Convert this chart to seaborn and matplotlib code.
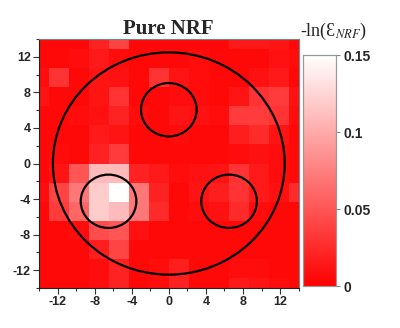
import numpy as np
import pandas as pd
import seaborn as sns
import matplotlib
matplotlib.use("Agg")
import matplotlib.pyplot as plt
from matplotlib.colors import LinearSegmentedColormap
from matplotlib.patches import Ellipse
from matplotlib.ticker import FixedLocator

# Sampling grid (cell centres, in cm) along x and y
x_centers = [-14.0, -11.85, -9.69, -7.54, -5.38, -3.23, -1.08,
             1.08, 3.23, 5.38, 7.54, 9.69, 11.85, 14.0]
y_centers = [14.0, 11.85, 9.69, 7.54, 5.38, 3.23, 1.08,
             -1.08, -3.23, -5.38, -7.54, -9.69, -11.85, -14.0]

# -ln(E_NRF) per cell, rows top (y=14) to bottom (y=-14)
row_00 = [0.005, 0.005, 0.005, 0.020, 0.040, 0.005, 0.005, 0.005, 0.005, 0.005, 0.015, 0.015, 0.012, 0.005]
row_01 = [0.005, 0.005, 0.008, 0.015, 0.008, 0.005, 0.005, 0.005, 0.008, 0.005, 0.005, 0.005, 0.010, 0.008]
row_02 = [0.008, 0.030, 0.005, 0.012, 0.010, 0.005, 0.030, 0.012, 0.008, 0.005, 0.005, 0.010, 0.015, 0.005]
row_03 = [0.012, 0.005, 0.005, 0.012, 0.030, 0.005, 0.005, 0.008, 0.008, 0.005, 0.012, 0.030, 0.035, 0.010]
row_04 = [0.005, 0.005, 0.008, 0.010, 0.020, 0.008, 0.005, 0.012, 0.010, 0.008, 0.035, 0.035, 0.030, 0.008]
row_05 = [0.005, 0.005, 0.005, 0.015, 0.012, 0.005, 0.005, 0.008, 0.005, 0.005, 0.018, 0.025, 0.012, 0.005]
row_06 = [0.005, 0.008, 0.005, 0.020, 0.035, 0.005, 0.005, 0.005, 0.005, 0.005, 0.008, 0.010, 0.008, 0.005]
row_07 = [0.005, 0.012, 0.050, 0.110, 0.110, 0.020, 0.015, 0.008, 0.010, 0.012, 0.030, 0.015, 0.008, 0.005]
row_08 = [0.008, 0.040, 0.070, 0.120, 0.150, 0.070, 0.020, 0.005, 0.012, 0.018, 0.030, 0.015, 0.010, 0.025]
row_09 = [0.005, 0.035, 0.060, 0.120, 0.110, 0.070, 0.025, 0.005, 0.008, 0.010, 0.025, 0.008, 0.005, 0.005]
row_10 = [0.005, 0.005, 0.008, 0.045, 0.050, 0.010, 0.005, 0.005, 0.005, 0.005, 0.005, 0.005, 0.005, 0.005]
row_11 = [0.005, 0.005, 0.005, 0.018, 0.040, 0.005, 0.005, 0.005, 0.005, 0.005, 0.005, 0.005, 0.005, 0.005]
row_12 = [0.005, 0.005, 0.005, 0.008, 0.020, 0.005, 0.008, 0.018, 0.005, 0.005, 0.008, 0.008, 0.005, 0.005]
row_13 = [0.005, 0.005, 0.005, 0.008, 0.020, 0.005, 0.008, 0.020, 0.005, 0.005, 0.015, 0.012, 0.008, 0.005]

# Phantom outline (x, y, radius)
outer_circle = (0.0, 0.0, 12.5)
inserts = [(0.0, 6.05, 3.0), (-6.5, -4.25, 3.0), (6.5, -4.25, 3.0)]

axis_ticks = [-12, -8, -4, 0, 4, 8, 12]
minor_ticks = [-14, -10, -6, -2, 2, 6, 10, 14]
cbar_ticks = [0, 0.05, 0.1, 0.15]
cbar_labels = ["0", "0.05", "0.1", "0.15"]

grid = pd.DataFrame(
    [row_00, row_01, row_02, row_03, row_04, row_05, row_06,
     row_07, row_08, row_09, row_10, row_11, row_12, row_13],
    index=y_centers, columns=x_centers)

step = (x_centers[-1] - x_centers[0]) / (len(x_centers) - 1)


def ix(x):
    return (x - x_centers[0]) / step + 0.5


def iy(y):
    return (y_centers[0] - y) / step + 0.5


sns.set_style("white")
plt.rcParams["mathtext.fontset"] = "stix"
fig = plt.figure(figsize=(4.0, 3.28), dpi=100)
ax = fig.add_axes([0.0975, 0.122, 0.649, 0.759])
cax = fig.add_axes([0.757, 0.128, 0.082, 0.704])

cmap = LinearSegmentedColormap.from_list("red_white", ["#ff0000", "#ffffff"])
sns.heatmap(grid, ax=ax, cbar_ax=cax, cmap=cmap, vmin=0, vmax=0.15,
            xticklabels=False, yticklabels=False, linewidths=0)

ax.set_xlim(ix(-14), ix(14))
ax.set_ylim(iy(-14), iy(14))

for cx, cy, r in [outer_circle] + inserts:
    ax.add_patch(Ellipse((ix(cx), iy(cy)), 2 * r / step, 2 * r / step,
                         fill=False, edgecolor="black", linewidth=1.6))

tick_font = dict(family="Liberation Sans", weight="bold", size=9)
ax.xaxis.set_major_locator(FixedLocator([ix(v) for v in axis_ticks]))
ax.xaxis.set_minor_locator(FixedLocator([ix(v) for v in minor_ticks]))
ax.set_xticklabels([str(v) for v in axis_ticks], rotation=0, **tick_font)
ax.yaxis.set_major_locator(FixedLocator([iy(v) for v in axis_ticks]))
ax.yaxis.set_minor_locator(FixedLocator([iy(v) for v in minor_ticks]))
ax.set_yticklabels([str(v) for v in axis_ticks], rotation=0, **tick_font)
ax.tick_params(which="major", direction="out", length=4, width=0.8,
               color="#333333", pad=2, bottom=True, left=True)
ax.tick_params(which="minor", direction="out", length=2.5, width=0.8,
               color="#333333", bottom=True, left=True)
ax.set_xlabel("")
ax.set_ylabel("")
for side, sp in ax.spines.items():
    sp.set_visible(True)
    sp.set_linewidth(0.8)
    sp.set_color("#222222" if side in ("left", "bottom") else "#6a8a8a")

ax.set_title("Pure NRF", family="Liberation Serif", weight="bold",
             size=15, pad=3)

cax.set_yticks(cbar_ticks)
cax.set_yticklabels(cbar_labels, family="Liberation Sans", weight="bold", size=10)
cax.tick_params(direction="out", length=3, width=0.8, color="#888888", pad=3)
for sp in cax.spines.values():
    sp.set_visible(True)
    sp.set_color("#999999")
    sp.set_linewidth(0.8)

fig.text(0.833, 0.905, "-ln(\u0190$_{NRF}$)", family="Liberation Serif",
         size=13, ha="center", va="center")

fig.savefig("out.png", dpi=100)
